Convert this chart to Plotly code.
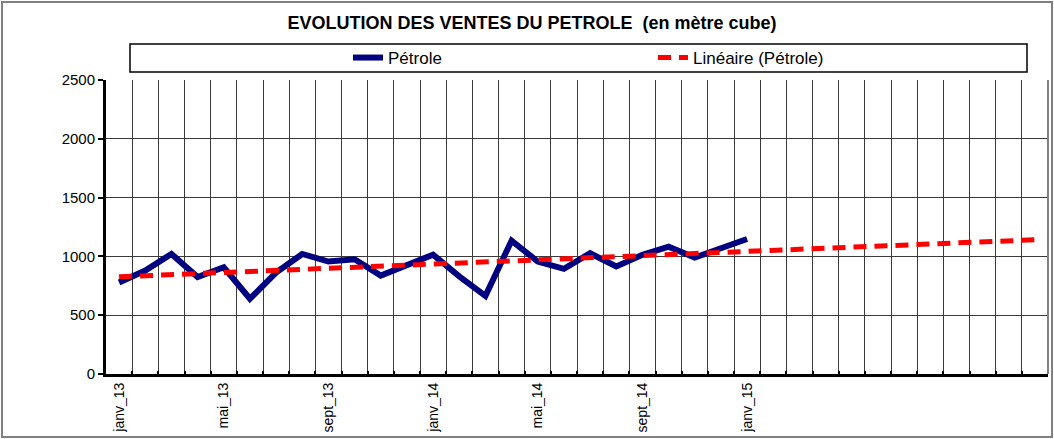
import numpy as np
import plotly.graph_objects as go

# Monthly categories (36 months on the axis, sales known for the first 25)
months = [
    "janv_13", "févr_13", "mars_13", "avr_13", "mai_13", "juin_13",
    "juil_13", "août_13", "sept_13", "oct_13", "nov_13", "déc_13",
    "janv_14", "févr_14", "mars_14", "avr_14", "mai_14", "juin_14",
    "juil_14", "août_14", "sept_14", "oct_14", "nov_14", "déc_14",
    "janv_15", "févr_15", "mars_15", "avr_15", "mai_15", "juin_15",
    "juil_15", "août_15", "sept_15", "oct_15", "nov_15", "déc_15",
]
labelled_months = ["janv_13", "mai_13", "sept_13", "janv_14", "mai_14", "sept_14", "janv_15"]

petrole = [778, 880, 1021, 824, 908, 640, 863, 1021, 956, 976, 837, 928,
           1015, 830, 665, 1134, 956, 894, 1027, 914, 1013, 1083, 990, 1069, 1148]

y_ticks = [0, 500, 1000, 1500, 2000, 2500]

# Positions of the months along the axis
pos = np.arange(len(months))
pos_data = pos[:len(petrole)]

# Linear trend (least squares) projected over all months
slope, intercept = np.polyfit(pos_data, petrole, 1)
trend = intercept + slope * pos

W, H = 1054, 439
ML, MR, MT, MB = 106, 6, 80, 65
PW, PH = W - ML - MR, H - MT - MB


def px_x(x):
    return (x - ML) / PW


def px_y(y):
    return (H - MB - y) / PH


FONT = "Arial, Liberation Sans, sans-serif"

fig = go.Figure()
fig.add_trace(go.Scatter(
    x=pos_data, y=petrole, mode="lines", name="Pétrole",
    line=dict(color="#000080", width=6),
))
fig.add_trace(go.Scatter(
    x=pos, y=trend, mode="lines", name="Linéaire (Pétrole)",
    line=dict(color="#FF0000", width=5, dash="13px,8px"),
))

shapes = [
    # outer chart frame
    dict(type="rect", xref="paper", yref="paper",
         x0=px_x(2), x1=px_x(1052), y0=px_y(437), y1=px_y(2),
         line=dict(color="#808080", width=2), layer="below"),
    # legend frame
    dict(type="rect", xref="paper", yref="paper",
         x0=px_x(130), x1=px_x(1027), y0=px_y(72), y1=px_y(44),
         line=dict(color="#000000", width=1.5), layer="below"),
    # plot area right border
    dict(type="line", xref="paper", yref="paper",
         x0=1, x1=1, y0=0, y1=1, line=dict(color="#808080", width=2)),
]

fig.update_layout(
    width=W, height=H,
    margin=dict(l=ML, r=MR, t=MT, b=MB),
    paper_bgcolor="white", plot_bgcolor="white",
    font=dict(family=FONT, color="black"),
    title=dict(
        text="<b>EVOLUTION DES VENTES DU PETROLE  (en mètre cube)</b>",
        font=dict(family=FONT, size=18, color="black"),
        xref="container", x=532 / W, xanchor="center",
        yref="container", y=1 - 23 / H, yanchor="middle",
    ),
    showlegend=True,
    legend=dict(
        orientation="h", xref="paper", yref="paper",
        x=px_x(348), xanchor="left", y=px_y(58), yanchor="middle",
        entrywidth=260, entrywidthmode="pixels",
        font=dict(family=FONT, size=17, color="black"),
        bgcolor="rgba(0,0,0,0)", borderwidth=0,
    ),
    shapes=shapes,
    xaxis=dict(
        range=[-0.5, len(months) - 0.5],
        tickmode="array",
        tickvals=[months.index(m) for m in labelled_months],
        ticktext=labelled_months,
        tickangle=-90,
        ticks="", showgrid=False, zeroline=False,
        tickfont=dict(family=FONT, size=14, color="black"),
        showline=True, linecolor="black", linewidth=3,
        minor=dict(
            tickmode="array",
            tickvals=list(pos[:-1] + 0.5),
            showgrid=True, gridcolor="#3a3a3a", gridwidth=1,
            ticks="inside", ticklen=3, tickcolor="black", tickwidth=2,
        ),
    ),
    yaxis=dict(
        range=[0, 2500],
        tickmode="array", tickvals=y_ticks,
        ticks="outside", ticklen=5, tickwidth=2, tickcolor="black",
        showgrid=True, gridcolor="#3a3a3a", gridwidth=1, zeroline=False,
        tickfont=dict(family=FONT, size=15, color="black"),
        showline=True, linecolor="black", linewidth=3,
    ),
)

fig.write_html("out.html")
